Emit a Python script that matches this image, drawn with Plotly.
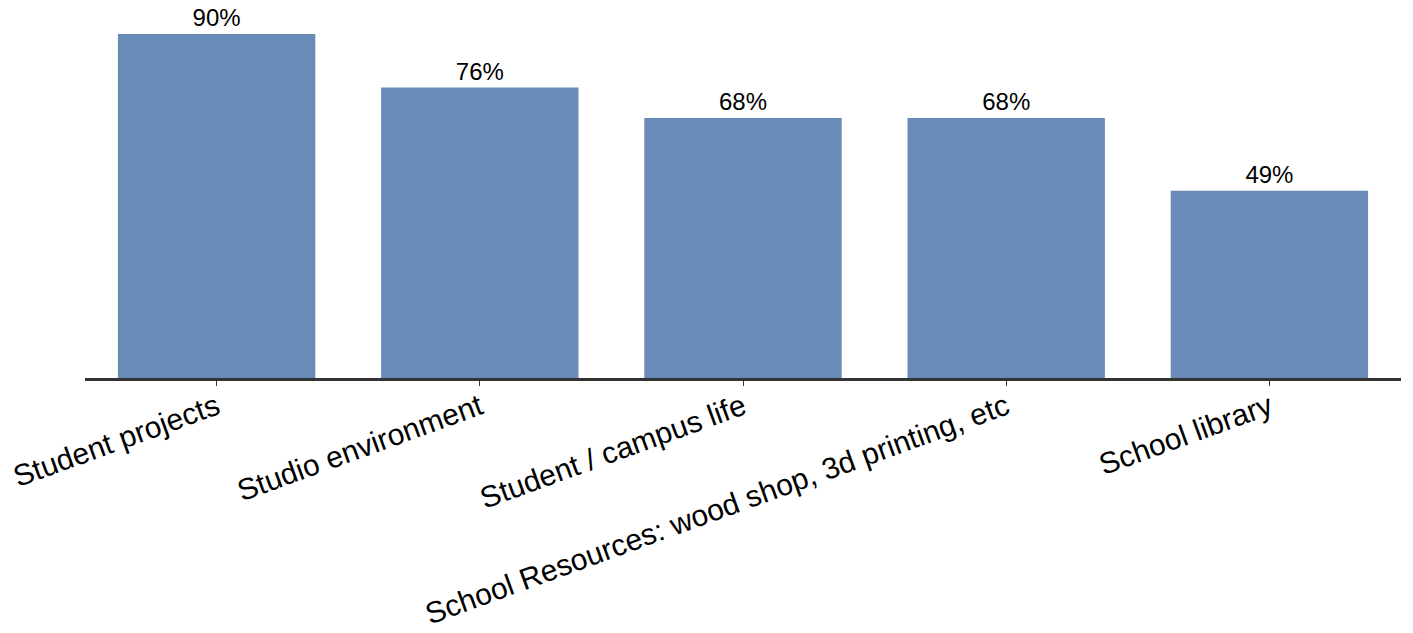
import plotly.graph_objects as go

categories = [
    "Student projects",
    "Studio environment",
    "Student / campus life",
    "School Resources: wood shop, 3d printing, etc",
    "School library",
]
values = [90, 76, 68, 68, 49]
value_labels = [f"{v}%" for v in values]

fig = go.Figure(
    go.Bar(
        x=categories,
        y=values,
        text=value_labels,
        textposition="outside",
        textfont=dict(size=24, color="#000000", family="Liberation Sans, Arial"),
        marker=dict(color="#688cb7", line=dict(width=0)),
        cliponaxis=False,
    )
)

fig.update_layout(
    width=1413,
    height=633,
    margin=dict(l=85, r=12, t=34, b=255, autoexpand=False),
    plot_bgcolor="white",
    paper_bgcolor="white",
    bargap=0.25,
    showlegend=False,
    font=dict(family="Liberation Sans, Arial", color="#000000"),
)

fig.update_xaxes(
    automargin=False,
    tickangle=-20,
    tickfont=dict(size=30, color="#000000"),
    ticklabelstandoff=-8,
    showline=True,
    linecolor="#333333",
    linewidth=3,
    ticks="outside",
    ticklen=5,
    tickwidth=1,
    tickcolor="#333333",
    showgrid=False,
)

fig.update_yaxes(
    range=[0, 90],
    visible=False,
    showgrid=False,
    zeroline=False,
)

fig.write_html("out.html")
